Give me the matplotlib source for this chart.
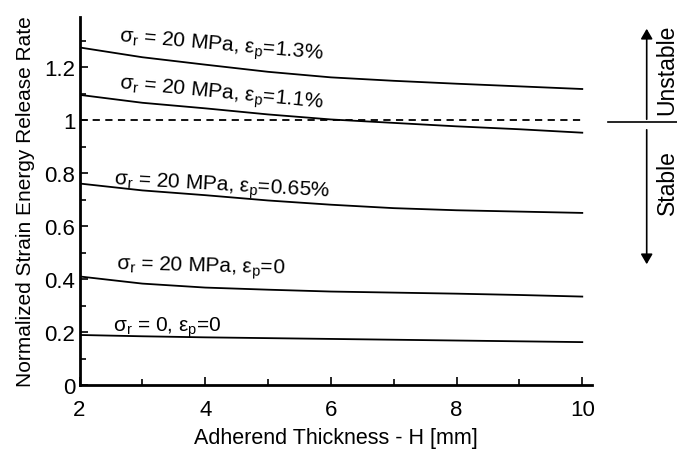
import matplotlib
matplotlib.use("Agg")
import matplotlib.pyplot as plt
import numpy as np
from matplotlib.ticker import MultipleLocator

plt.rcParams['font.family'] = ['Liberation Sans', 'DejaVu Sans']
plt.rcParams['mathtext.fontset'] = 'custom'
plt.rcParams['mathtext.rm'] = 'Liberation Sans'
plt.rcParams['mathtext.it'] = 'Liberation Sans:italic'
plt.rcParams['mathtext.sf'] = 'Liberation Sans'

# Data
H = [2, 3, 4, 5, 6, 7, 8, 9, 10]
g_13 = [1.275, 1.238, 1.21, 1.183, 1.162, 1.149, 1.138, 1.128, 1.118]
g_11 = [1.096, 1.066, 1.045, 1.022, 1.003, 0.99, 0.977, 0.966, 0.953]
g_065 = [0.761, 0.735, 0.717, 0.697, 0.681, 0.668, 0.66, 0.655, 0.65]
g_0 = [0.41, 0.383, 0.368, 0.36, 0.353, 0.349, 0.345, 0.34, 0.334]
g_s0 = [0.189, 0.184, 0.18, 0.177, 0.174, 0.171, 0.168, 0.165, 0.162]
critical = 1.0

labels = [
    r'$\mathrm{\sigma_r}$ = 20 MPa, $\mathrm{\varepsilon_p}$=1.3%',
    r'$\mathrm{\sigma_r}$ = 20 MPa, $\mathrm{\varepsilon_p}$=1.1%',
    r'$\mathrm{\sigma_r}$ = 20 MPa, $\mathrm{\varepsilon_p}$=0.65%',
    r'$\mathrm{\sigma_r}$ = 20 MPa, $\mathrm{\varepsilon_p}$=0',
    r'$\mathrm{\sigma_r}$ = 0, $\mathrm{\varepsilon_p}$=0',
]
label_x = [2.63, 2.62, 2.54, 2.59, 2.54]
label_y = [1.30, 1.121, 0.761, 0.439, 0.206]
label_rot = [-5.0, -5.5, -3.3, -1.5, 0.0]

fig = plt.figure(figsize=(6.77, 4.52), dpi=100)
ax = fig.add_axes([79.5 / 677, 1 - 386 / 452, (591.7 - 79.5) / 677, (386 - 18) / 452])

for g in [g_13, g_11, g_065, g_0, g_s0]:
    ax.plot(H, g, color='black', lw=1.3)
ax.plot([H[0], H[-1]], [critical, critical], color='black', lw=1.3, ls=(0, (4, 3)))

for t, x, y, r in zip(labels, label_x, label_y, label_rot):
    ax.text(x, y, t, fontsize=15, ha='left', va='baseline', rotation=r,
            rotation_mode='anchor')

ax.set_xlim(2, 10.15)
ax.set_ylim(0, 1.39)
ax.set_xticks([2, 4, 6, 8, 10])
ax.set_xticklabels(['2', '4', '6', '8', '10'])
ax.set_yticks([0, 0.2, 0.4, 0.6, 0.8, 1.0, 1.2])
ax.set_yticklabels(['0', '0.2', '0.4', '0.6', '0.8', '1', '1.2'])
ax.xaxis.set_minor_locator(MultipleLocator(1))
ax.yaxis.set_minor_locator(MultipleLocator(0.1))
ax.tick_params(axis='both', which='both', direction='in', labelsize=16, width=1.2)
ax.tick_params(axis='both', which='major', length=6)
ax.tick_params(axis='both', which='minor', length=4)
ax.tick_params(axis='x', pad=10)
ax.tick_params(axis='y', pad=3)
for s in ['top', 'right']:
    ax.spines[s].set_visible(False)
for s in ['left', 'bottom']:
    ax.spines[s].set_linewidth(2)

ax.set_xlabel('Adherend Thickness - H [mm]', fontsize=15.5, labelpad=5)
ax.set_ylabel('Normalized Strain Energy Release Rate', fontsize=15, labelpad=7)

# Stability indicator outside the axes
yc = 1 - 123 / 452
xa = 646.7 / 677
fig.add_artist(plt.Line2D([608 / 677, 1.0], [yc, yc], color='black', lw=1.2,
                          transform=fig.transFigure))
fig.patches.append(matplotlib.patches.FancyArrowPatch(
    (xa, yc), (xa, 1 - 27 / 452), transform=fig.transFigure,
    arrowstyle='-|>,head_length=6,head_width=3.5', color='black', lw=1.2))
fig.patches.append(matplotlib.patches.FancyArrowPatch(
    (xa, 1 - 128 / 452), (xa, 1 - 268 / 452), transform=fig.transFigure,
    arrowstyle='-|>,head_length=6,head_width=3.5', color='black', lw=1.2))
fig.text(667 / 677, 1 - 70 / 452, 'Unstable', rotation=90, fontsize=16.5,
         ha='center', va='center')
fig.text(667 / 677, 1 - 183 / 452, 'Stable', rotation=90, fontsize=16.5,
         ha='center', va='center')

fig.savefig('out.png', dpi=100)
